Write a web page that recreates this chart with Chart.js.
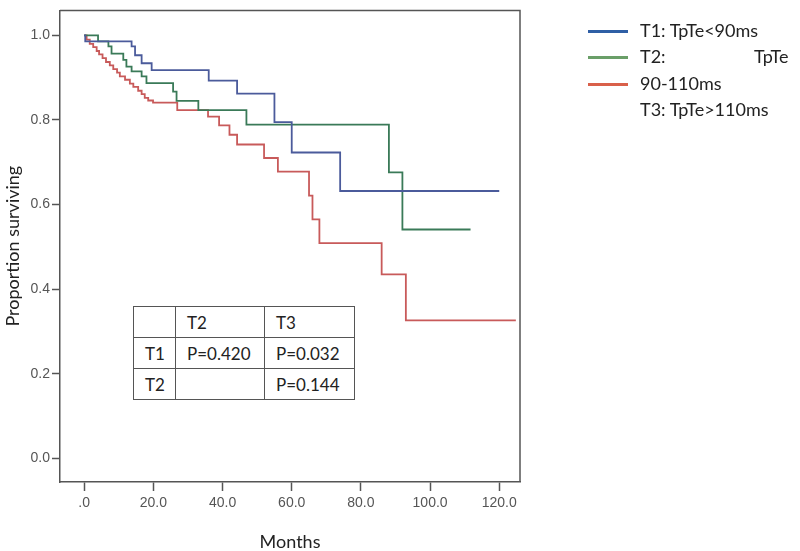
<!DOCTYPE html>
<html>
<head>
<meta charset="utf-8">
<script src="https://cdn.jsdelivr.net/npm/chart.js@4"></script>
<style>
    body { margin: 0; background: #fff; }
    #wrap { position: relative; width: 800px; height: 551px; }
    #legend { position: absolute; left: 0; top: 0; font-family: Lato, sans-serif; font-size: 18px; color: #222; }
    .leg-line { position: absolute; left: 588px; width: 40px; height: 3px; }
    .leg-text { position: absolute; white-space: nowrap; line-height: 20px; }
    #ptable { position: absolute; left: 133px; top: 306px; border-collapse: collapse; font-family: Lato, sans-serif; font-size: 17px; color: #222; background: #fff; }
    #ptable td { border: 1.5px solid #555; padding: 0 0 0 11px; height: 30px; text-align: left; }
</style>
</head>
<body>
<div id="wrap">
    <canvas id="kmChart" width="800" height="551"></canvas>
    <div id="legend"></div>
    <table id="ptable"></table>
</div>
<script>
// Kaplan-Meier step data: months where the curve drops, and proportion surviving after the drop
const blueMonths = [0, 0.3, 13.7, 14.7, 16.6, 19.5, 36, 44.2, 55, 60, 74, 120];
const blueSurv = [1.0, 0.986, 0.974, 0.953, 0.934, 0.918, 0.893, 0.862, 0.795, 0.723, 0.632, 0.632];

const greenMonths = [0, 4, 7, 7.9, 11.3, 12.2, 13.7, 16.6, 18, 25.7, 26.7, 33, 46.9, 88.1, 92, 111.7];
const greenSurv = [1.0, 0.986, 0.974, 0.957, 0.942, 0.926, 0.915, 0.903, 0.887, 0.867, 0.845, 0.823, 0.789, 0.676, 0.541, 0.541];

const redMonths = [0, 0.7, 1.6, 2.6, 3.6, 4.3, 5.3, 6.3, 7.4, 8.4, 9.5, 10.3, 11.8, 13.2, 14.2, 15.6, 16.6, 17.5, 18.5, 19.9,
    26.9, 35.8, 39, 42, 44.2, 52, 56, 65, 66, 68, 86, 93, 124.8];
const redSurv = [1.0, 0.99, 0.98, 0.972, 0.963, 0.955, 0.946, 0.937, 0.929, 0.92, 0.912, 0.903, 0.895, 0.886, 0.878, 0.869, 0.861, 0.852, 0.846, 0.841,
    0.823, 0.808, 0.787, 0.765, 0.742, 0.71, 0.678, 0.621, 0.565, 0.509, 0.435, 0.326, 0.326];

const xTicks = [0, 20, 40, 60, 80, 100, 120];
const yTicks = [0, 0.2, 0.4, 0.6, 0.8, 1.0];

const legendRows = [
    { color: "#2f5fa5", text: "T1: TpTe<90ms", y: 31 },
    { color: "#6a9f68", text: "T2:", y: 57 },
    { color: "#d9604a", text: "90-110ms", y: 84 },
    { color: null, text: "T3: TpTe>110ms", y: 110 }
];

const tableRows = [
    ["", "T2", "T3"],
    ["T1", "P=0.420", "P=0.032"],
    ["T2", "", "P=0.144"]
];

function toPoints(xs, ys) {
    return xs.map((x, i) => ({ x: x, y: ys[i] }));
};

function renderLegend() {
    const legend = document.getElementById("legend");
    legend.innerHTML = legendRows.map(row => `
        ${row.color ? `<div class="leg-line" style="top:${row.y - 1}px;background:${row.color}"></div>` : ""}
        <div class="leg-text" style="left:640px;top:${row.y - 11}px">${row.text}</div>
    `).join("") + `<div class="leg-text" style="left:754px;top:46px">TpTe</div>`;
};

function renderTable() {
    const widths = [30, 77, 78];
    document.getElementById("ptable").innerHTML = tableRows.map(r =>
        `<tr>${r.map((c, i) => `<td style="width:${widths[i]}px">${c}</td>`).join("")}</tr>`
    ).join("");
};

const framePlugin = {
    id: "frame",
    beforeDatasetsDraw(chart) {
        const { ctx, chartArea } = chart;
        ctx.save();
        ctx.strokeStyle = "#555";
        ctx.lineWidth = 1.5;
        ctx.beginPath();
        ctx.moveTo(chartArea.left, chartArea.top);
        ctx.lineTo(chartArea.right, chartArea.top);
        ctx.lineTo(chartArea.right, chartArea.bottom);
        ctx.stroke();
        ctx.restore();
    }
};

const tickFont = { family: "'Liberation Sans', Arial, sans-serif", size: 14 };

new Chart(document.getElementById("kmChart"), {
    type: "line",
    data: {
        datasets: [
            { data: toPoints(blueMonths, blueSurv), borderColor: "#4b5b9b" },
            { data: toPoints(greenMonths, greenSurv), borderColor: "#3a7a58" },
            { data: toPoints(redMonths, redSurv), borderColor: "#c85a5a" }
        ].map(ds => Object.assign(ds, { stepped: true, borderWidth: 1.8, pointRadius: 0, fill: false }))
    },
    options: {
        responsive: false,
        animation: false,
        devicePixelRatio: 1,
        layout: { padding: { top: 7, right: 280, left: 0, bottom: 0 } },
        plugins: { legend: { display: false }, tooltip: { enabled: false } },
        scales: {
            x: {
                type: "linear",
                min: -7,
                max: 126,
                afterFit: scale => { scale.height = 69; },
                afterBuildTicks: scale => { scale.ticks = xTicks.map(v => ({ value: v })); },
                grid: { drawOnChartArea: false, tickLength: 9, tickWidth: 1.5, tickColor: "#555" },
                border: { color: "#555", width: 1.5 },
                ticks: {
                    color: "#555",
                    font: tickFont,
                    padding: 4,
                    maxRotation: 0,
                    callback: v => v === 0 ? ".0" : v.toFixed(1)
                },
                title: { display: true, text: "Months", color: "#222", font: { family: "Lato", size: 18, lineHeight: 1 }, padding: 0 }
            },
            y: {
                min: -0.056,
                max: 1.059,
                afterFit: scale => { scale.width = 60; },
                afterBuildTicks: scale => { scale.ticks = yTicks.map(v => ({ value: v })); },
                grid: { drawOnChartArea: false, tickLength: 8, tickWidth: 1.5, tickColor: "#555" },
                border: { color: "#555", width: 1.5 },
                ticks: {
                    color: "#555",
                    font: tickFont,
                    padding: 2,
                    callback: v => v.toFixed(1)
                },
                title: { display: true, text: "Proportion surviving", color: "#222", font: { family: "Lato", size: 18 }, padding: { top: 2, bottom: 0 } }
            }
        }
    },
    plugins: [framePlugin]
});

renderLegend();
renderTable();
</script>
</body>
</html>
